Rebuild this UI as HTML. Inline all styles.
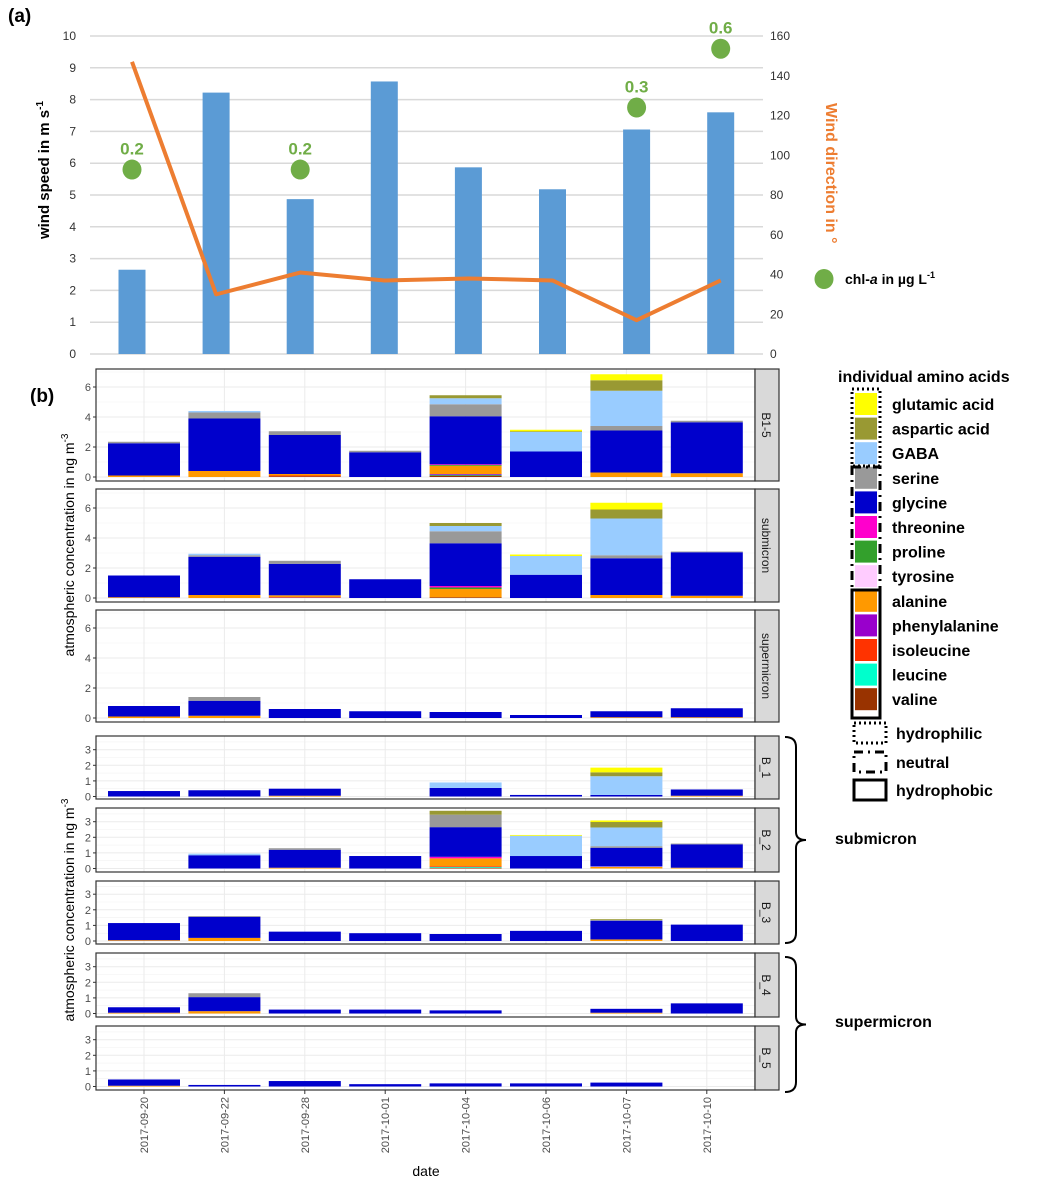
<!DOCTYPE html>
<html><head><meta charset="utf-8"><style>
body{margin:0;background:#fff;}
svg{display:block;font-family:"Liberation Sans",sans-serif;}
</style></head><body>
<svg id="c" width="1043" height="1195" viewBox="0 0 1043 1195" xmlns="http://www.w3.org/2000/svg"></svg>
<script>
// ---------- panel (a) data ----------
const windSpeed=[2.65,8.22,4.87,8.57,5.87,5.18,7.06,7.6];
const windDir=[147,30,41,37,38,37,17,37];
const chlIdx=[0,2,6,7];
const chlVals=[0.2,0.2,0.3,0.6];
const chlPos=[5.8,5.8,7.75,9.6];
const leftTicks=[0,1,2,3,4,5,6,7,8,9,10];
const rightTicks=[0,20,40,60,80,100,120,140,160];
// ---------- panel (b) data ----------
const dates=["2017-09-20","2017-09-22","2017-09-28","2017-10-01","2017-10-04","2017-10-06","2017-10-07","2017-10-10"];
const facetNames=["B1-5","submicron","supermicron","B_1","B_2","B_3","B_4","B_5"];
const bigTicks=[0,2,4,6];
const smallTicks=[0,1,2,3];
const Z=[0,0,0,0,0,0,0,0];
const valine=[[0,0,.05,0,.1,0,0,0],[0,0,0,0,.05,0,0,0],Z,Z,[0,0,0,0,.05,0,0,0],Z,Z,Z];
const leucine=[[0,0,0,0,.05,0,0,0],Z,Z,Z,[0,0,0,0,.05,0,0,0],Z,Z,Z];
const isoleucine=[[0,0,.05,0,0,0,0,0],Z,Z,Z,[0,0,0,0,.05,0,0,0],Z,Z,Z];
const phenylalanine=[[0,0,0,0,.05,0,0,0],[0,0,.03,0,0,0,0,0],Z,Z,Z,Z,Z,Z];
const alanine=[[.1,.4,.1,0,.55,0,.3,.25],[.05,.2,.15,0,.55,0,.2,.15],[.1,.15,0,0,0,0,.05,.05],[0,0,.05,0,0,0,0,.05],[0,0,.05,0,.5,0,.1,.05],[.05,.2,0,0,0,0,.1,0],[.05,.15,0,0,0,0,.05,0],[.05,0,0,0,0,0,0,0]];
const tyrosine=[Z,Z,Z,Z,[0,0,0,0,0,0,.03,0],Z,Z,Z];
const proline=[[0,0,0,0,.05,0,0,0],[0,0,0,0,.1,0,0,0],Z,Z,Z,Z,Z,Z];
const threonine=[[0,0,0,0,.05,0,0,0],[0,0,0,0,.1,0,0,0],Z,Z,[0,0,0,0,.1,0,0,0],Z,Z,Z];
const glycine=[[2.15,3.5,2.6,1.65,3.2,1.7,2.8,3.4],[1.45,2.55,2.1,1.25,2.85,1.55,2.45,2.9],[.7,1.0,.6,.45,.4,.2,.4,.6],[.35,.4,.45,0,.55,.1,.1,.4],[0,.85,1.15,.8,1.9,.8,1.2,1.5],[1.1,1.35,.6,.5,.45,.65,1.2,1.05],[.35,.9,.25,.25,.2,0,.25,.65],[.4,.1,.35,.15,.2,.2,.25,0]];
const serine=[[.1,.4,.25,.1,.8,0,.3,.1],[0,.1,.2,0,.8,0,.2,.05],[0,.25,0,0,0,0,0,0],Z,[0,0,.1,0,.8,0,.1,.05],[0,.05,0,0,0,0,.05,0],[0,.25,0,0,0,0,0,0],Z];
const GABA=[[0,.1,0,0,.4,1.3,2.35,0],[0,.1,0,0,.35,1.25,2.45,0],Z,[0,0,0,0,.35,0,1.2,0],[0,.1,0,0,0,1.3,1.2,0],Z,Z,Z];
const aspartic=[[0,0,0,0,.2,.05,.7,0],[0,0,0,0,.2,0,.6,0],Z,[0,0,0,0,0,0,.25,0],[0,0,0,0,.25,0,.35,0],[0,0,0,0,0,0,.05,0],Z,Z];
const glutamic=[[0,0,0,0,0,.1,.4,0],[0,0,0,0,0,.1,.45,0],Z,[0,0,0,0,0,0,.3,0],[0,0,0,0,0,.05,.1,0],Z,Z,Z];

const acids=[["valine",valine,"#993300"],["leucine",leucine,"#00ffcc"],["isoleucine",isoleucine,"#ff3300"],["phenylalanine",phenylalanine,"#9900cc"],["alanine",alanine,"#ff9900"],["tyrosine",tyrosine,"#ffccff"],["proline",proline,"#33a02c"],["threonine",threonine,"#ff00cc"],["glycine",glycine,"#0000cc"],["serine",serine,"#999999"],["GABA",GABA,"#99ccff"],["aspartic acid",aspartic,"#999933"],["glutamic acid",glutamic,"#ffff00"]];

const svg=document.getElementById('c');
const NS="http://www.w3.org/2000/svg";
function mk(tag,attrs,parent,text){const e=document.createElementNS(NS,tag);for(const k in attrs)e.setAttribute(k,attrs[k]);if(text!==undefined)e.textContent=text;(parent||svg).appendChild(e);return e;}

// ---------- panel (a) ----------
const yL=v=>354-v*31.8, yR=d=>354-d/160*318, xA=i=>132+i*84.1;
let e=mk('text',{x:8,y:22,'font-size':19,'font-weight':'bold'},svg,'(a)');


leftTicks.forEach(t=>{
 let g=mk('line',{x1:90,x2:763,y1:yL(t),y2:yL(t),stroke:'#d9d9d9','stroke-width':1.5});
 
 
 let l=mk('text',{x:76,y:yL(t)+4,'font-size':12,'text-anchor':'end',fill:'#333'},svg,t);
 
 
});
rightTicks.forEach(t=>{
 let l=mk('text',{x:770,y:yR(t)+4,'font-size':12,fill:'#333'},svg,t);
 
 
});
windSpeed.forEach((v,i)=>{
 let b=mk('rect',{x:xA(i)-13.5,y:yL(v),width:27,height:354-yL(v),fill:'#5b9bd5'});
 
 
});
let ln=mk('polyline',{points:windDir.map((d,i)=>xA(i)+','+yR(d)).join(' '),fill:'none',stroke:'#ed7d31','stroke-width':4,'stroke-linejoin':'round'});


chlIdx.forEach((di,k)=>{
 let c=mk('ellipse',{cx:xA(di),cy:yL(chlPos[k]),rx:9.5,ry:10,fill:'#70ad47'});
 
 
 let t=mk('text',{x:xA(di),y:yL(chlPos[k])-15,'font-size':17,'font-weight':'bold',fill:'#70ad47','text-anchor':'middle'},svg,chlVals[k]);
 
 
});
let yt=mk('text',{transform:'translate(49,170) rotate(-90)','font-size':15,'font-weight':'bold','text-anchor':'middle'},svg);


yt.innerHTML='wind speed in m s<tspan dy="-6" font-size="10">-1</tspan>';
let rt=mk('text',{transform:'translate(826,103) rotate(90)','font-size':16,'font-weight':'bold',fill:'#ed7d31'},svg,'Wind direction in °');


let lc=mk('ellipse',{cx:824,cy:279,rx:9.5,ry:10,fill:'#70ad47'});


let lt=mk('text',{x:845,y:284,'font-size':14,'font-weight':'bold'},svg);


lt.innerHTML='chl-<tspan font-style="italic">a</tspan> in µg L<tspan dy="-6" font-size="9">-1</tspan>';

// ---------- panel (b) ----------
let bl=mk('text',{x:30,y:402,'font-size':19,'font-weight':'bold'},svg,'(b)');


const PX0=96, PX1=755, SX1=779;
const xB=i=>144+i*80.4;
const facetBox=[[369,481,477,15],[489,602,598,15],[610,722,718,15],[736,799,796.5,15.6],[808,872,868.5,15.6],[881,944,941,15.6],[953,1017,1013.5,15.6],[1026,1090,1086.5,15.6]];
facetNames.forEach((name,f)=>{
 const [top,bot,zero,s]=facetBox[f];
 const ticks=f<3?bigTicks:smallTicks;
 const g=mk('g',{});
 
 
 mk('rect',{x:PX0,y:top,width:PX1-PX0,height:bot-top,fill:'#fff'},g);
 // minor grid
 const step=ticks[1]-ticks[0];
 for(let v=step/2;zero-v*s>top;v+=step){mk('line',{x1:PX0,x2:PX1,y1:zero-v*s,y2:zero-v*s,stroke:'#f2f2f2','stroke-width':.6},g);}
 ticks.forEach(t=>{
  mk('line',{x1:PX0,x2:PX1,y1:zero-t*s,y2:zero-t*s,stroke:'#ebebeb','stroke-width':1},g);
  mk('line',{x1:PX0-3,x2:PX0,y1:zero-t*s,y2:zero-t*s,stroke:'#333','stroke-width':1},g);
  let tl=mk('text',{x:PX0-5,y:zero-t*s+4,'font-size':11,'text-anchor':'end',fill:'#4d4d4d'},g,t);
  
  
 });
 dates.forEach((d,i)=>mk('line',{x1:xB(i),x2:xB(i),y1:top,y2:bot,stroke:'#ebebeb','stroke-width':1},g));
 dates.forEach((d,i)=>{
  let cum=0;
  acids.forEach(([an,arr,col])=>{
   const v=arr[f][i]; if(!v) return;
   let r=mk('rect',{x:xB(i)-36,y:zero-(cum+v)*s,width:72,height:v*s,fill:col},g);
   
   
   cum+=v;
  });
 });
 mk('rect',{x:PX0,y:top,width:PX1-PX0,height:bot-top,fill:'none',stroke:'#333','stroke-width':1.2},g);
 let st=mk('rect',{x:PX1,y:top,width:SX1-PX1,height:bot-top,fill:'#d9d9d9',stroke:'#333','stroke-width':1.2},g);
 
 
 let stt=mk('text',{transform:`translate(${PX1+7},${(top+bot)/2}) rotate(90)`,'font-size':12,fill:'#1a1a1a','text-anchor':'middle'},g,name);
 
 
});
dates.forEach((d,i)=>{
 mk('line',{x1:xB(i),x2:xB(i),y1:1090,y2:1094,stroke:'#333'});
 let t=mk('text',{transform:`translate(${xB(i)+4},1097) rotate(-90)`,'font-size':11,fill:'#4d4d4d','text-anchor':'end'},svg,d);
 
 
});
let xt=mk('text',{x:426,y:1176,'font-size':14,'text-anchor':'middle'},svg,'date');


[[545],[910]].forEach(([cy])=>{
 let t=mk('text',{transform:`translate(74,${cy}) rotate(-90)`,'font-size':14,'text-anchor':'middle'},svg);
 
 
 t.innerHTML='atmospheric concentration in ng m<tspan dy="-6" font-size="10">-3</tspan>';
});

// braces
function brace(y0,y1,name){
 const m=(y0+y1)/2;
 let p=mk('path',{d:`M785,${y0} Q796,${y0} 796,${y0+10} L796,${m-8} Q796,${m} 806,${m} Q796,${m} 796,${m+8} L796,${y1-10} Q796,${y1} 785,${y1}`,fill:'none',stroke:'#000','stroke-width':2});
 
 
}
brace(737,943,'submicron');brace(957,1092,'supermicron');
let sl=mk('text',{x:835,y:844,'font-size':16,'font-weight':'bold'},svg,'submicron');


let spl=mk('text',{x:835,y:1027,'font-size':16,'font-weight':'bold'},svg,'supermicron');



// legend
let lgt=mk('text',{x:838,y:382,'font-size':16,'font-weight':'bold'},svg,'individual amino acids');


const legendOrder=[12,11,10,9,8,7,6,5,4,3,2,1,0];
legendOrder.forEach((ai,k)=>{
 const y=393+k*24.6;
 let r=mk('rect',{x:855,y:y,width:22,height:22,fill:acids[ai][2]});
 
 
 let t=mk('text',{x:892,y:y+17,'font-size':16,'font-weight':'bold'},svg,acids[ai][0]);
 
 
});
let b1=mk('rect',{x:852,y:389,width:28,height:77,fill:'none',stroke:'#000','stroke-width':3,'stroke-dasharray':'2,3'});


let b2=mk('rect',{x:852,y:467,width:28,height:123,fill:'none',stroke:'#000','stroke-width':3,'stroke-dasharray':'9,5,2,5'});


let b3=mk('rect',{x:852,y:590,width:28,height:128,fill:'none',stroke:'#000','stroke-width':3});


[[ '2,3','hydrophilic',723],['9,5,2,5','neutral',752],['','hydrophobic',780]].forEach(([da,n,y])=>{
 let r=mk('rect',{x:854,y:y,width:32,height:20,fill:'none',stroke:'#000','stroke-width':3});
 if(da) r.setAttribute('stroke-dasharray',da);
 
 
 let t=mk('text',{x:896,y:y+16,'font-size':16,'font-weight':'bold'},svg,n);
 
 
});
</script>
</body></html>
